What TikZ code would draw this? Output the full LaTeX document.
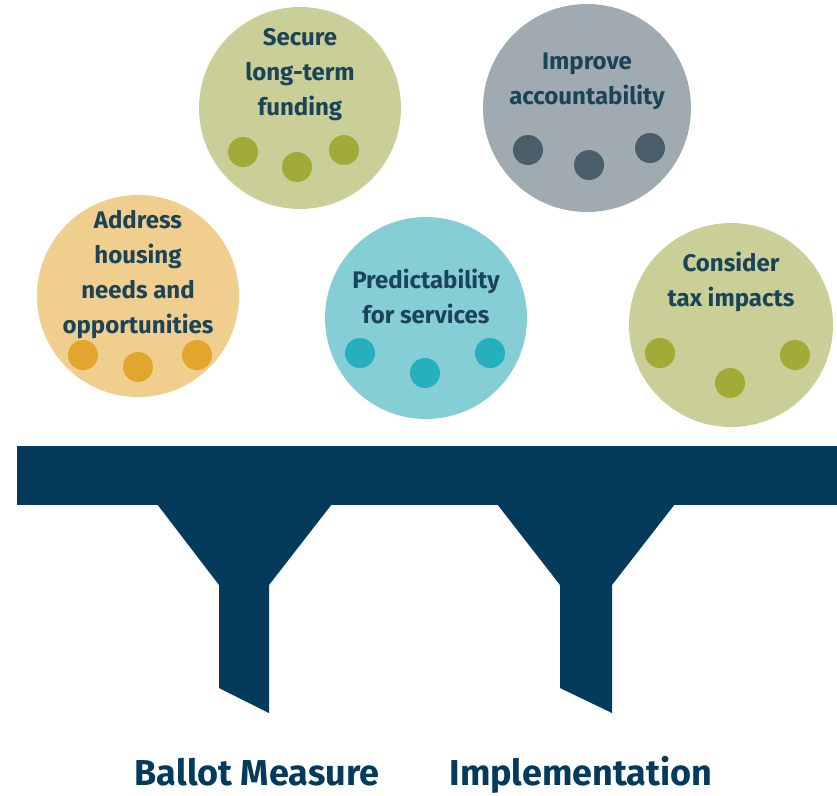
\documentclass[tikz,border=0pt]{standalone}
\usepackage{fontspec}
\setmainfont{Fira Sans}
\usepackage{tikz}
\usepackage{color}

\definecolor{navy}{RGB}{4,58,92}
\definecolor{inktext}{RGB}{28,68,88}
\definecolor{olivelight}{RGB}{201,207,150}
\definecolor{olivedot}{RGB}{162,170,56}
\definecolor{slatelight}{RGB}{160,171,177}
\definecolor{slatedot}{RGB}{74,94,105}
\definecolor{sandlight}{RGB}{240,206,142}
\definecolor{sanddot}{RGB}{226,166,46}
\definecolor{aqualight}{RGB}{134,206,213}
\definecolor{aquadot}{RGB}{38,176,189}

\begin{document}
\begin{tikzpicture}[x=1pt,y=-1pt,
  circtext/.style={text=inktext, align=center, font=\bfseries\fontsize{24}{35}\selectfont},
  labeltext/.style={text=navy, anchor=base, inner sep=0pt, font=\bfseries\fontsize{36}{40}\selectfont}]
\useasboundingbox (0,0) rectangle (837,795);

% goal circles
\fill[olivelight] (300,108) circle (101);
\fill[slatelight] (587,108) circle (104);
\fill[sandlight] (138,296) circle (101);
\fill[aqualight] (426,318) circle (101);
\fill[olivelight] (731,325) circle (102);

% dots
\foreach \p in {(243,152),(297,167),(344,150)} \fill[olivedot] \p circle (15);
\foreach \p in {(528,150),(589,165),(650,148)} \fill[slatedot] \p circle (15);
\foreach \p in {(83,355),(138,367),(197,355)} \fill[sanddot] \p circle (15);
\foreach \p in {(360,353),(425,373),(490,353)} \fill[aquadot] \p circle (15);
\foreach \p in {(660,353),(730,383),(795,355)} \fill[olivedot] \p circle (15);

% circle texts
\node[circtext] (funding) at (300,75) {Secure\\long-term\\funding};
\node[circtext] (account) at (587,81) {Improve\\accountability};
\node[circtext] (housing) at (138,275) {Address\\housing\\needs and\\opportunities};
\node[circtext] (predict) at (426,296) {Predictability\\for services};
\node[circtext] (taxes) at (731,282) {Consider\\tax impacts};

% bar and funnels
\fill[navy] (17,446) rectangle (837,505);
\fill[navy] (157,504) -- (332,504) -- (269,585) -- (269,713) -- (219,688) -- (219,585) -- cycle;
\fill[navy] (497,504) -- (675,504) -- (612,585) -- (612,713) -- (560,688) -- (560,585) -- cycle;

% labels
\node[labeltext] (ballot) at (257,785) {Ballot Measure};
\node[labeltext] (implement) at (581,785) {Implementation};
\end{tikzpicture}
\end{document}
